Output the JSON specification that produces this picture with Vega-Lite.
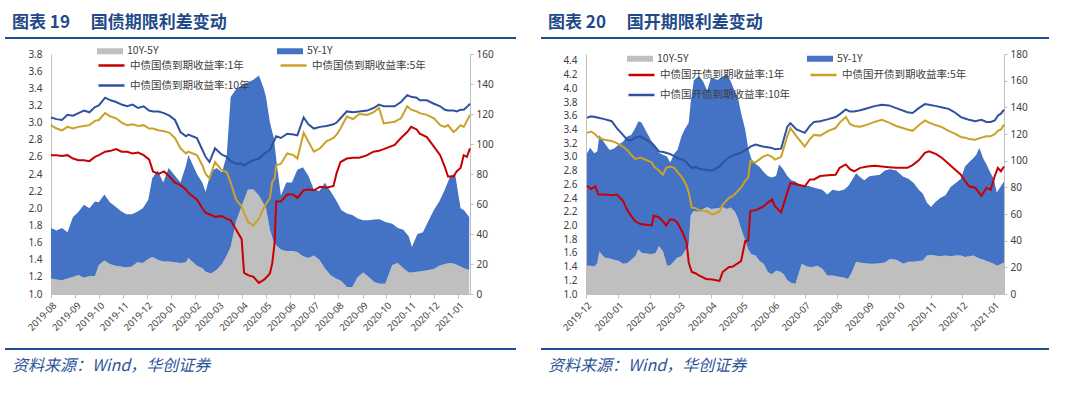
{
"$schema": "https://vega.github.io/schema/vega-lite/v6.json",
"background": "white",
"padding": {"left": 5, "top": 14, "right": 5, "bottom": 5},
"spacing": 25,
"resolve": {"scale": {"fill": "independent", "stroke": "independent"}, "legend": {"fill": "independent", "stroke": "independent"}},
"config": {
  "view": {"stroke": null},
  "font": "Noto Sans CJK SC",
  "axis": {"labelFont": "Noto Sans", "labelFontSize": 10, "labelColor": "#404040", "domainColor": "#bfbfbf", "tickColor": "#bfbfbf", "grid": false, "title": null},
  "legend": {"labelFont": "Noto Sans CJK SC", "labelFontSize": 10.5, "labelColor": "#404040", "padding": 0, "title": null}
},
"datasets": {
"aL": [
{"d":"2019-08-01","10Y-5Y":10.3,"5Y-1Y":33.7},{"d":"2019-08-08","10Y-5Y":9.7,"5Y-1Y":32.6},{"d":"2019-08-15","10Y-5Y":9.1,"5Y-1Y":34.9},{"d":"2019-08-22","10Y-5Y":10.3,"5Y-1Y":30.9},{"d":"2019-08-29","10Y-5Y":11.4,"5Y-1Y":40.0},
{"d":"2019-09-05","10Y-5Y":12.6,"5Y-1Y":42.3},{"d":"2019-09-12","10Y-5Y":10.9,"5Y-1Y":48.6},{"d":"2019-09-19","10Y-5Y":12.0,"5Y-1Y":45.1},{"d":"2019-09-26","10Y-5Y":12.0,"5Y-1Y":49.7},
{"d":"2019-10-01","10Y-5Y":19.4,"5Y-1Y":41.7},{"d":"2019-10-08","10Y-5Y":22.3,"5Y-1Y":44.0},{"d":"2019-10-15","10Y-5Y":20.0,"5Y-1Y":41.1},{"d":"2019-10-22","10Y-5Y":18.9,"5Y-1Y":39.4},{"d":"2019-10-29","10Y-5Y":18.3,"5Y-1Y":37.1},
{"d":"2019-11-05","10Y-5Y":17.7,"5Y-1Y":35.4},{"d":"2019-11-12","10Y-5Y":18.3,"5Y-1Y":34.9},{"d":"2019-11-19","10Y-5Y":21.1,"5Y-1Y":33.7},{"d":"2019-11-26","10Y-5Y":20.6,"5Y-1Y":36.6},
{"d":"2019-12-03","10Y-5Y":23.4,"5Y-1Y":39.4},{"d":"2019-12-08","10Y-5Y":24.6,"5Y-1Y":52.6},{"d":"2019-12-15","10Y-5Y":22.9,"5Y-1Y":59.4},{"d":"2019-12-22","10Y-5Y":21.7,"5Y-1Y":52.6},{"d":"2019-12-29","10Y-5Y":21.7,"5Y-1Y":62.3},
{"d":"2020-01-06","10Y-5Y":21.1,"5Y-1Y":57.7},{"d":"2020-01-13","10Y-5Y":20.6,"5Y-1Y":53.7},{"d":"2020-01-20","10Y-5Y":21.1,"5Y-1Y":64.6},{"d":"2020-01-23","10Y-5Y":24.0,"5Y-1Y":68.6},
{"d":"2020-02-03","10Y-5Y":18.9,"5Y-1Y":61.1},{"d":"2020-02-10","10Y-5Y":17.1,"5Y-1Y":57.1},{"d":"2020-02-14","10Y-5Y":14.9,"5Y-1Y":53.1},{"d":"2020-02-21","10Y-5Y":13.7,"5Y-1Y":68.0},{"d":"2020-02-28","10Y-5Y":16.0,"5Y-1Y":68.0},
{"d":"2020-03-06","10Y-5Y":20.0,"5Y-1Y":61.1},{"d":"2020-03-12","10Y-5Y":25.7,"5Y-1Y":66.9},{"d":"2020-03-17","10Y-5Y":31.4,"5Y-1Y":100.0},{"d":"2020-03-24","10Y-5Y":48.6,"5Y-1Y":88.0},
{"d":"2020-04-01","10Y-5Y":60.0,"5Y-1Y":79.4},{"d":"2020-04-08","10Y-5Y":69.7,"5Y-1Y":71.4},{"d":"2020-04-15","10Y-5Y":69.7,"5Y-1Y":73.1},{"d":"2020-04-22","10Y-5Y":65.7,"5Y-1Y":80.0},{"d":"2020-04-28","10Y-5Y":60.0,"5Y-1Y":77.1},
{"d":"2020-05-01","10Y-5Y":57.1,"5Y-1Y":74.3},{"d":"2020-05-06","10Y-5Y":42.9,"5Y-1Y":71.4},{"d":"2020-05-11","10Y-5Y":34.3,"5Y-1Y":69.7},{"d":"2020-05-15","10Y-5Y":32.0,"5Y-1Y":53.7},{"d":"2020-05-20","10Y-5Y":29.7,"5Y-1Y":36.0},{"d":"2020-05-27","10Y-5Y":28.6,"5Y-1Y":45.7},
{"d":"2020-06-03","10Y-5Y":28.6,"5Y-1Y":45.7},{"d":"2020-06-10","10Y-5Y":28.0,"5Y-1Y":54.9},{"d":"2020-06-17","10Y-5Y":25.1,"5Y-1Y":59.4},{"d":"2020-06-24","10Y-5Y":24.0,"5Y-1Y":54.9},
{"d":"2020-07-01","10Y-5Y":25.7,"5Y-1Y":44.0},{"d":"2020-07-08","10Y-5Y":22.9,"5Y-1Y":45.7},{"d":"2020-07-15","10Y-5Y":17.1,"5Y-1Y":57.1},{"d":"2020-07-22","10Y-5Y":12.6,"5Y-1Y":56.0},{"d":"2020-07-29","10Y-5Y":10.3,"5Y-1Y":52.6},
{"d":"2020-08-05","10Y-5Y":8.6,"5Y-1Y":47.4},{"d":"2020-08-12","10Y-5Y":4.6,"5Y-1Y":49.1},{"d":"2020-08-19","10Y-5Y":4.6,"5Y-1Y":48.0},{"d":"2020-08-26","10Y-5Y":11.4,"5Y-1Y":38.9},
{"d":"2020-09-02","10Y-5Y":14.3,"5Y-1Y":34.9},{"d":"2020-09-09","10Y-5Y":11.4,"5Y-1Y":37.7},{"d":"2020-09-16","10Y-5Y":8.0,"5Y-1Y":41.7},{"d":"2020-09-23","10Y-5Y":6.9,"5Y-1Y":42.9},{"d":"2020-09-30","10Y-5Y":6.9,"5Y-1Y":41.1},
{"d":"2020-10-09","10Y-5Y":19.4,"5Y-1Y":27.4},{"d":"2020-10-16","10Y-5Y":20.6,"5Y-1Y":23.4},{"d":"2020-10-23","10Y-5Y":17.1,"5Y-1Y":25.7},{"d":"2020-10-30","10Y-5Y":14.3,"5Y-1Y":24.0},
{"d":"2020-11-03","10Y-5Y":14.3,"5Y-1Y":17.1},{"d":"2020-11-10","10Y-5Y":14.9,"5Y-1Y":25.1},{"d":"2020-11-17","10Y-5Y":15.4,"5Y-1Y":25.7},{"d":"2020-11-24","10Y-5Y":16.0,"5Y-1Y":32.6},
{"d":"2020-12-01","10Y-5Y":16.6,"5Y-1Y":39.4},{"d":"2020-12-08","10Y-5Y":18.9,"5Y-1Y":42.9},{"d":"2020-12-15","10Y-5Y":20.0,"5Y-1Y":49.7},{"d":"2020-12-22","10Y-5Y":20.6,"5Y-1Y":58.3},{"d":"2020-12-28","10Y-5Y":20.0,"5Y-1Y":60.0},
{"d":"2021-01-04","10Y-5Y":18.3,"5Y-1Y":38.9},{"d":"2021-01-08","10Y-5Y":17.1,"5Y-1Y":38.9},{"d":"2021-01-15","10Y-5Y":16.0,"5Y-1Y":35.4}
],
"lL": [
{"d":"2019-08-01","1年":2.62,"5年":2.97,"10年":3.06},{"d":"2019-08-08","1年":2.62,"5年":2.93,"10年":3.04},{"d":"2019-08-15","1年":2.61,"5年":2.91,"10年":3.03},{"d":"2019-08-22","1年":2.62,"5年":2.95,"10年":3.09},{"d":"2019-08-29","1年":2.58,"5年":2.93,"10年":3.08},
{"d":"2019-09-05","1年":2.56,"5年":2.95,"10年":3.11},{"d":"2019-09-12","1年":2.56,"5年":2.96,"10年":3.14},{"d":"2019-09-19","1年":2.55,"5年":2.97,"10年":3.12},{"d":"2019-09-26","1年":2.60,"5年":3.02,"10年":3.18},
{"d":"2019-10-01","1年":2.62,"5年":3.03,"10年":3.20},{"d":"2019-10-09","1年":2.66,"5年":3.11,"10年":3.29},{"d":"2019-10-16","1年":2.67,"5年":3.07,"10年":3.26},{"d":"2019-10-23","1年":2.69,"5年":3.05,"10年":3.24},{"d":"2019-10-30","1年":2.66,"5年":3.00,"10年":3.21},
{"d":"2019-11-06","1年":2.66,"5年":2.97,"10年":3.19},{"d":"2019-11-13","1年":2.64,"5年":2.98,"10年":3.21},{"d":"2019-11-20","1年":2.65,"5年":2.96,"10年":3.17},{"d":"2019-11-27","1年":2.62,"5年":2.97,"10年":3.19},
{"d":"2019-12-04","1年":2.57,"5年":2.93,"10年":3.14},{"d":"2019-12-09","1年":2.43,"5年":2.93,"10年":3.13},{"d":"2019-12-16","1年":2.40,"5年":2.91,"10年":3.13},{"d":"2019-12-23","1年":2.43,"5年":2.90,"10年":3.11},{"d":"2019-12-30","1年":2.37,"5年":2.88,"10年":3.08},
{"d":"2020-01-06","1年":2.30,"5年":2.82,"10年":3.03},{"d":"2020-01-13","1年":2.27,"5年":2.70,"10年":2.89},{"d":"2020-01-20","1年":2.22,"5年":2.64,"10年":2.84},{"d":"2020-01-23","1年":2.18,"5年":2.66,"10年":2.86},
{"d":"2020-02-03","1年":2.10,"5年":2.62,"10年":2.82},{"d":"2020-02-10","1年":2.00,"5年":2.50,"10年":2.68},{"d":"2020-02-14","1年":1.95,"5年":2.40,"10年":2.60},{"d":"2020-02-19","1年":1.93,"5年":2.35,"10年":2.54},{"d":"2020-02-26","1年":1.90,"5年":2.54,"10年":2.70},
{"d":"2020-03-05","1年":1.91,"5年":2.45,"10年":2.63},{"d":"2020-03-12","1年":1.88,"5年":2.42,"10年":2.60},{"d":"2020-03-17","1年":1.86,"5年":2.30,"10年":2.55},{"d":"2020-03-24","1年":1.75,"5年":2.10,"10年":2.52},{"d":"2020-03-31","1年":1.64,"5年":2.02,"10年":2.52},
{"d":"2020-04-03","1年":1.25,"5年":1.95,"10年":2.50},{"d":"2020-04-08","1年":1.22,"5年":1.84,"10年":2.53},{"d":"2020-04-15","1年":1.20,"5年":1.80,"10年":2.56},{"d":"2020-04-22","1年":1.13,"5年":1.88,"10年":2.58},{"d":"2020-04-29","1年":1.17,"5年":2.02,"10年":2.64},
{"d":"2020-05-06","1年":1.24,"5年":2.12,"10年":2.68},{"d":"2020-05-09","1年":1.36,"5年":2.31,"10年":2.74},{"d":"2020-05-12","1年":1.60,"5年":2.35,"10年":2.80},{"d":"2020-05-14","1年":2.08,"5年":2.50,"10年":2.84},{"d":"2020-05-20","1年":2.08,"5年":2.52,"10年":2.82},{"d":"2020-05-28","1年":2.16,"5年":2.64,"10年":2.87},
{"d":"2020-06-05","1年":2.16,"5年":2.62,"10年":2.86},{"d":"2020-06-10","1年":2.12,"5年":2.58,"10年":2.85},{"d":"2020-06-18","1年":2.21,"5年":2.88,"10年":3.06},{"d":"2020-06-24","1年":2.22,"5年":2.78,"10年":2.98},
{"d":"2020-07-01","1年":2.21,"5年":2.66,"10年":2.93},{"d":"2020-07-09","1年":2.25,"5年":2.70,"10年":2.95},{"d":"2020-07-17","1年":2.24,"5年":2.78,"10年":2.96},{"d":"2020-07-26","1年":2.26,"5年":2.82,"10年":2.98},{"d":"2020-07-30","1年":2.41,"5年":2.86,"10年":3.00},
{"d":"2020-08-04","1年":2.54,"5年":2.93,"10年":3.05},{"d":"2020-08-12","1年":2.58,"5年":3.07,"10年":3.13},{"d":"2020-08-20","1年":2.59,"5年":3.04,"10年":3.12},{"d":"2020-08-28","1年":2.59,"5年":3.10,"10年":3.13},
{"d":"2020-09-07","1年":2.62,"5年":3.09,"10年":3.14},{"d":"2020-09-15","1年":2.66,"5年":3.12,"10年":3.17},{"d":"2020-09-22","1年":2.67,"5年":3.17,"10年":3.21},{"d":"2020-09-28","1年":2.69,"5年":2.99,"10年":3.19},
{"d":"2020-10-12","1年":2.74,"5年":3.01,"10年":3.19},{"d":"2020-10-20","1年":2.82,"5年":3.05,"10年":3.24},{"d":"2020-10-28","1年":2.89,"5年":3.19,"10年":3.32},
{"d":"2020-11-02","1年":2.95,"5年":3.15,"10年":3.30},{"d":"2020-11-09","1年":2.92,"5年":3.13,"10年":3.29},{"d":"2020-11-13","1年":2.87,"5年":3.11,"10年":3.26},{"d":"2020-11-22","1年":2.83,"5年":3.09,"10年":3.26},
{"d":"2020-12-01","1年":2.72,"5年":3.05,"10年":3.22},{"d":"2020-12-09","1年":2.62,"5年":2.97,"10年":3.19},{"d":"2020-12-15","1年":2.48,"5年":2.95,"10年":3.15},{"d":"2020-12-19","1年":2.37,"5年":2.97,"10年":3.14},{"d":"2020-12-26","1年":2.37,"5年":2.89,"10年":3.14},{"d":"2020-12-30","1年":2.43,"5年":2.92,"10年":3.13},
{"d":"2021-01-04","1年":2.47,"5年":2.97,"10年":3.15},{"d":"2021-01-08","1年":2.62,"5年":2.95,"10年":3.15},{"d":"2021-01-12","1年":2.60,"5年":3.02,"10年":3.18},{"d":"2021-01-16","1年":2.70,"5年":3.09,"10年":3.22}
],
"aR": [
{"d":"2019-12-02","10Y-5Y":21.1,"5Y-1Y":84.3},{"d":"2019-12-05","10Y-5Y":21.1,"5Y-1Y":88.5},{"d":"2019-12-09","10Y-5Y":20.6,"5Y-1Y":84.9},{"d":"2019-12-12","10Y-5Y":23.1,"5Y-1Y":83.8},{"d":"2019-12-14","10Y-5Y":31.9,"5Y-1Y":87.4},{"d":"2019-12-19","10Y-5Y":27.3,"5Y-1Y":85.9},{"d":"2019-12-24","10Y-5Y":26.7,"5Y-1Y":81.3},{"d":"2019-12-28","10Y-5Y":25.7,"5Y-1Y":83.3},
{"d":"2020-01-02","10Y-5Y":24.7,"5Y-1Y":87.4},{"d":"2020-01-06","10Y-5Y":22.6,"5Y-1Y":91.5},{"d":"2020-01-10","10Y-5Y":23.1,"5Y-1Y":95.1},{"d":"2020-01-14","10Y-5Y":25.7,"5Y-1Y":93.6},{"d":"2020-01-18","10Y-5Y":28.3,"5Y-1Y":96.2},{"d":"2020-01-21","10Y-5Y":33.4,"5Y-1Y":96.2},{"d":"2020-01-24","10Y-5Y":30.9,"5Y-1Y":97.7},
{"d":"2020-02-03","10Y-5Y":29.8,"5Y-1Y":84.3},{"d":"2020-02-07","10Y-5Y":30.9,"5Y-1Y":78.7},{"d":"2020-02-10","10Y-5Y":36.0,"5Y-1Y":69.9},{"d":"2020-02-14","10Y-5Y":31.9,"5Y-1Y":72.5},{"d":"2020-02-18","10Y-5Y":21.1,"5Y-1Y":81.8},{"d":"2020-02-21","10Y-5Y":21.6,"5Y-1Y":77.1},{"d":"2020-02-25","10Y-5Y":24.7,"5Y-1Y":80.7},{"d":"2020-02-28","10Y-5Y":27.3,"5Y-1Y":80.7},
{"d":"2020-03-03","10Y-5Y":28.3,"5Y-1Y":90.0},{"d":"2020-03-06","10Y-5Y":31.9,"5Y-1Y":91.5},{"d":"2020-03-10","10Y-5Y":37.0,"5Y-1Y":91.5},{"d":"2020-03-12","10Y-5Y":59.1,"5Y-1Y":84.9},{"d":"2020-03-15","10Y-5Y":62.2,"5Y-1Y":98.2},{"d":"2020-03-20","10Y-5Y":61.7,"5Y-1Y":101.8},{"d":"2020-03-24","10Y-5Y":63.8,"5Y-1Y":95.7},{"d":"2020-03-28","10Y-5Y":65.3,"5Y-1Y":87.4},
{"d":"2020-04-01","10Y-5Y":63.8,"5Y-1Y":98.7},{"d":"2020-04-07","10Y-5Y":64.3,"5Y-1Y":96.2},{"d":"2020-04-12","10Y-5Y":65.3,"5Y-1Y":97.7},{"d":"2020-04-16","10Y-5Y":63.8,"5Y-1Y":100.8},{"d":"2020-04-20","10Y-5Y":64.8,"5Y-1Y":94.6},{"d":"2020-04-24","10Y-5Y":61.7,"5Y-1Y":90.0},{"d":"2020-04-27","10Y-5Y":56.6,"5Y-1Y":90.5},{"d":"2020-04-30","10Y-5Y":48.9,"5Y-1Y":86.9},
{"d":"2020-05-04","10Y-5Y":40.1,"5Y-1Y":83.3},{"d":"2020-05-07","10Y-5Y":33.4,"5Y-1Y":75.6},{"d":"2020-05-10","10Y-5Y":29.8,"5Y-1Y":71.5},{"d":"2020-05-14","10Y-5Y":28.8,"5Y-1Y":68.9},{"d":"2020-05-18","10Y-5Y":24.7,"5Y-1Y":70.5},{"d":"2020-05-22","10Y-5Y":22.6,"5Y-1Y":68.9},{"d":"2020-05-26","10Y-5Y":16.5,"5Y-1Y":72.0},{"d":"2020-05-30","10Y-5Y":14.9,"5Y-1Y":72.5},
{"d":"2020-06-03","10Y-5Y":17.5,"5Y-1Y":71.0},{"d":"2020-06-06","10Y-5Y":17.0,"5Y-1Y":80.2},{"d":"2020-06-10","10Y-5Y":15.4,"5Y-1Y":78.2},{"d":"2020-06-14","10Y-5Y":10.3,"5Y-1Y":78.2},{"d":"2020-06-18","10Y-5Y":8.2,"5Y-1Y":77.1},{"d":"2020-06-22","10Y-5Y":7.7,"5Y-1Y":76.6},{"d":"2020-06-28","10Y-5Y":22.6,"5Y-1Y":58.1},
{"d":"2020-07-03","10Y-5Y":20.6,"5Y-1Y":60.7},{"d":"2020-07-08","10Y-5Y":20.1,"5Y-1Y":60.2},{"d":"2020-07-13","10Y-5Y":21.1,"5Y-1Y":58.1},{"d":"2020-07-18","10Y-5Y":19.0,"5Y-1Y":59.1},{"d":"2020-07-23","10Y-5Y":13.9,"5Y-1Y":60.7},{"d":"2020-07-28","10Y-5Y":13.9,"5Y-1Y":64.3},
{"d":"2020-08-03","10Y-5Y":12.9,"5Y-1Y":64.3},{"d":"2020-08-08","10Y-5Y":12.3,"5Y-1Y":65.8},{"d":"2020-08-12","10Y-5Y":11.3,"5Y-1Y":69.4},{"d":"2020-08-16","10Y-5Y":16.5,"5Y-1Y":68.9},{"d":"2020-08-20","10Y-5Y":24.2,"5Y-1Y":66.3},{"d":"2020-08-24","10Y-5Y":23.7,"5Y-1Y":63.8},{"d":"2020-08-28","10Y-5Y":23.1,"5Y-1Y":62.2},
{"d":"2020-09-02","10Y-5Y":22.6,"5Y-1Y":65.8},{"d":"2020-09-07","10Y-5Y":22.6,"5Y-1Y":66.3},{"d":"2020-09-12","10Y-5Y":23.1,"5Y-1Y":66.3},{"d":"2020-09-17","10Y-5Y":23.7,"5Y-1Y":68.9},{"d":"2020-09-22","10Y-5Y":26.2,"5Y-1Y":67.4},{"d":"2020-09-28","10Y-5Y":25.7,"5Y-1Y":66.9},
{"d":"2020-10-05","10Y-5Y":22.6,"5Y-1Y":65.3},{"d":"2020-10-10","10Y-5Y":24.2,"5Y-1Y":62.2},{"d":"2020-10-15","10Y-5Y":24.2,"5Y-1Y":59.1},{"d":"2020-10-20","10Y-5Y":24.7,"5Y-1Y":53.5},{"d":"2020-10-24","10Y-5Y":25.2,"5Y-1Y":49.9},{"d":"2020-10-28","10Y-5Y":28.8,"5Y-1Y":39.6},
{"d":"2020-11-01","10Y-5Y":29.3,"5Y-1Y":36.0},{"d":"2020-11-05","10Y-5Y":28.8,"5Y-1Y":40.1},{"d":"2020-11-10","10Y-5Y":28.3,"5Y-1Y":43.7},{"d":"2020-11-15","10Y-5Y":28.8,"5Y-1Y":45.3},{"d":"2020-11-20","10Y-5Y":28.3,"5Y-1Y":51.9},{"d":"2020-11-25","10Y-5Y":28.8,"5Y-1Y":54.5},{"d":"2020-11-30","10Y-5Y":28.8,"5Y-1Y":57.6},
{"d":"2020-12-04","10Y-5Y":27.8,"5Y-1Y":67.9},{"d":"2020-12-08","10Y-5Y":28.3,"5Y-1Y":70.5},{"d":"2020-12-12","10Y-5Y":28.8,"5Y-1Y":73.0},{"d":"2020-12-15","10Y-5Y":27.8,"5Y-1Y":76.6},{"d":"2020-12-18","10Y-5Y":26.7,"5Y-1Y":82.8},{"d":"2020-12-22","10Y-5Y":25.7,"5Y-1Y":75.6},{"d":"2020-12-25","10Y-5Y":24.7,"5Y-1Y":72.5},{"d":"2020-12-29","10Y-5Y":23.7,"5Y-1Y":66.9},
{"d":"2021-01-01","10Y-5Y":22.6,"5Y-1Y":63.8},{"d":"2021-01-04","10Y-5Y":21.1,"5Y-1Y":55.0},{"d":"2021-01-07","10Y-5Y":22.1,"5Y-1Y":57.6},{"d":"2021-01-11","10Y-5Y":23.7,"5Y-1Y":60.7}
],
"lR": [
{"d":"2019-12-02","1年":2.58,"5年":3.35,"10年":3.57},{"d":"2019-12-06","1年":2.53,"5年":3.37,"10年":3.59},{"d":"2019-12-10","1年":2.57,"5年":3.33,"10年":3.58},{"d":"2019-12-13","1年":2.45,"5年":3.28,"10年":3.57},{"d":"2019-12-19","1年":2.45,"5年":3.25,"10年":3.55},{"d":"2019-12-26","1年":2.44,"5年":3.23,"10年":3.52},{"d":"2019-12-31","1年":2.45,"5年":3.20,"10年":3.42},
{"d":"2020-01-06","1年":2.36,"5年":3.15,"10年":3.32},{"d":"2020-01-10","1年":2.23,"5年":3.10,"10年":3.25},{"d":"2020-01-14","1年":2.14,"5年":3.03,"10年":3.24},{"d":"2020-01-18","1年":2.06,"5年":2.97,"10年":3.28},{"d":"2020-01-23","1年":2.02,"5年":2.99,"10年":3.30},
{"d":"2020-02-03","1年":2.00,"5年":2.92,"10年":3.20},{"d":"2020-02-05","1年":2.14,"5年":2.86,"10年":3.17},{"d":"2020-02-10","1年":2.12,"5年":2.80,"10年":3.08},{"d":"2020-02-14","1年":2.06,"5年":2.74,"10年":3.07},{"d":"2020-02-17","1年":2.00,"5年":2.84,"10年":3.06},{"d":"2020-02-21","1年":2.09,"5年":2.86,"10年":3.04},{"d":"2020-02-25","1年":2.08,"5年":2.84,"10年":3.01},{"d":"2020-02-28","1年":2.04,"5年":2.78,"10年":2.98},
{"d":"2020-03-04","1年":1.90,"5年":2.69,"10年":2.96},{"d":"2020-03-08","1年":1.75,"5年":2.58,"10年":2.92},{"d":"2020-03-10","1年":1.46,"5年":2.48,"10年":2.88},{"d":"2020-03-13","1年":1.32,"5年":2.26,"10年":2.84},{"d":"2020-03-17","1年":1.30,"5年":2.25,"10年":2.85},{"d":"2020-03-20","1年":1.27,"5年":2.22,"10年":2.83},{"d":"2020-03-27","1年":1.22,"5年":2.21,"10年":2.81},
{"d":"2020-04-02","1年":1.21,"5年":2.16,"10年":2.80},{"d":"2020-04-09","1年":1.19,"5年":2.20,"10年":2.86},{"d":"2020-04-12","1年":1.32,"5年":2.30,"10年":2.91},{"d":"2020-04-18","1年":1.39,"5年":2.40,"10年":2.99},{"d":"2020-04-22","1年":1.40,"5年":2.43,"10年":3.02},{"d":"2020-04-30","1年":1.48,"5年":2.55,"10年":3.06},
{"d":"2020-05-04","1年":1.77,"5年":2.65,"10年":3.10},{"d":"2020-05-07","1年":1.78,"5年":2.70,"10年":3.12},{"d":"2020-05-09","1年":2.21,"5年":2.94,"10年":3.15},{"d":"2020-05-14","1年":2.22,"5年":2.92,"10年":3.18},{"d":"2020-05-21","1年":2.27,"5年":3.00,"10年":3.15},{"d":"2020-05-26","1年":2.33,"5年":3.03,"10年":3.14},{"d":"2020-05-30","1年":2.38,"5年":3.00,"10年":3.13},
{"d":"2020-06-02","1年":2.28,"5年":2.96,"10年":3.11},{"d":"2020-06-08","1年":2.19,"5年":3.00,"10年":3.12},{"d":"2020-06-14","1年":2.48,"5年":3.30,"10年":3.44},{"d":"2020-06-17","1年":2.62,"5年":3.42,"10年":3.49},{"d":"2020-06-23","1年":2.60,"5年":3.30,"10年":3.40},
{"d":"2020-07-01","1年":2.57,"5年":3.15,"10年":3.35},{"d":"2020-07-06","1年":2.67,"5年":3.26,"10年":3.45},{"d":"2020-07-10","1年":2.67,"5年":3.32,"10年":3.51},{"d":"2020-07-16","1年":2.72,"5年":3.31,"10年":3.52},{"d":"2020-07-24","1年":2.73,"5年":3.38,"10年":3.55},{"d":"2020-07-31","1年":2.74,"5年":3.42,"10年":3.58},
{"d":"2020-08-04","1年":2.84,"5年":3.50,"10年":3.62},{"d":"2020-08-10","1年":2.89,"5年":3.58,"10年":3.69},{"d":"2020-08-14","1年":2.82,"5年":3.48,"10年":3.66},{"d":"2020-08-18","1年":2.79,"5年":3.45,"10年":3.66},{"d":"2020-08-24","1年":2.84,"5年":3.44,"10年":3.68},{"d":"2020-08-31","1年":2.86,"5年":3.47,"10年":3.71},
{"d":"2020-09-07","1年":2.87,"5年":3.51,"10年":3.74},{"d":"2020-09-14","1年":2.86,"5年":3.54,"10年":3.76},{"d":"2020-09-21","1年":2.85,"5年":3.50,"10年":3.75},{"d":"2020-09-28","1年":2.84,"5年":3.45,"10年":3.71},
{"d":"2020-10-09","1年":2.84,"5年":3.40,"10年":3.65},{"d":"2020-10-14","1年":2.88,"5年":3.38,"10年":3.64},{"d":"2020-10-20","1年":2.95,"5年":3.46,"10年":3.71},{"d":"2020-10-26","1年":3.06,"5年":3.53,"10年":3.77},{"d":"2020-10-30","1年":3.08,"5年":3.50,"10年":3.76},
{"d":"2020-11-06","1年":3.04,"5年":3.46,"10年":3.74},{"d":"2020-11-12","1年":2.98,"5年":3.43,"10年":3.72},{"d":"2020-11-18","1年":2.90,"5年":3.38,"10年":3.70},{"d":"2020-11-24","1年":2.82,"5年":3.34,"10年":3.65},{"d":"2020-11-30","1年":2.74,"5年":3.29,"10年":3.58},
{"d":"2020-12-04","1年":2.65,"5年":3.28,"10年":3.56},{"d":"2020-12-08","1年":2.57,"5年":3.26,"10年":3.54},{"d":"2020-12-14","1年":2.55,"5年":3.25,"10年":3.52},{"d":"2020-12-20","1年":2.43,"5年":3.28,"10年":3.54},{"d":"2020-12-25","1年":2.55,"5年":3.30,"10年":3.51},{"d":"2020-12-29","1年":2.52,"5年":3.30,"10年":3.51},
{"d":"2021-01-02","1年":2.72,"5年":3.33,"10年":3.53},{"d":"2021-01-05","1年":2.84,"5年":3.38,"10年":3.60},{"d":"2021-01-08","1年":2.79,"5年":3.40,"10年":3.63},{"d":"2021-01-11","1年":2.86,"5年":3.47,"10年":3.69}
]
},
"hconcat": [
{
  "vconcat": [
    {"title": {"text": "图表  19　  国债期限利差变动", "anchor": "start", "frame": "group", "orient": "top", "offset": -12, "dx": 7, "baseline": "bottom", "fontSize": 17, "font": "Noto Sans CJK SC", "fontWeight": "bold", "color": "#1f4a8a"},
     "width": 511, "height": 2, "view": {"fill": "#1f4e8c", "stroke": null},
     "data": {"values": [{"z": 0}]}, "mark": {"type": "text", "text": "", "fontSize": 1}},
    {"width": 419, "height": 240,
     "encoding": {"x": {"field": "d", "type": "temporal",
        "scale": {"type": "utc", "domain": [{"year": 2019, "month": 8, "date": 1, "utc": true}, {"year": 2021, "month": 1, "date": 16, "utc": true}]},
        "axis": {"labelExpr": "utcFormat(datum.value, '%Y-%m')", "labelAngle": -45, "tickCount": {"interval": "month", "step": 1}, "tickSize": 4, "labelPadding": 2, "labelFontSize": 9.5, "labelOverlap": false, "labelFlush": false}}},
     "layer": [
       {"data": {"name": "aL"}, "transform": [{"fold": ["10Y-5Y", "5Y-1Y"], "as": ["k", "v"]}],
        "mark": {"type": "area"},
        "encoding": {
          "y": {"field": "v", "type": "quantitative", "stack": "zero", "scale": {"domain": [0, 160], "nice": false},
                "axis": {"orient": "right", "values": [0, 20, 40, 60, 80, 100, 120, 140, 160], "tickSize": 3, "labelPadding": 3}},
          "fill": {"field": "k", "type": "nominal", "scale": {"domain": ["10Y-5Y", "5Y-1Y"], "range": ["#bfbfbf", "#4472c4"]},
                   "legend": {"orient": "none", "legendX": 92, "legendY": 1, "direction": "horizontal", "columns": 2, "columnPadding": 118, "symbolType": "M-1,-0.23H1V0.23H-1Z", "symbolSize": 676, "symbolStrokeWidth": 0, "symbolOpacity": 1, "labelOffset": 4}},
          "order": {"field": "k", "sort": "ascending"}}},
       {"data": {"name": "lL"}, "transform": [{"fold": ["1年", "5年", "10年"], "as": ["k", "v"]}],
        "mark": {"type": "line", "strokeWidth": 2},
        "encoding": {
          "y": {"field": "v", "type": "quantitative", "scale": {"domain": [1.0, 3.8], "nice": false, "zero": false},
                "axis": {"orient": "left", "values": [1.0, 1.2, 1.4, 1.6, 1.8, 2.0, 2.2, 2.4, 2.6, 2.8, 3.0, 3.2, 3.4, 3.6, 3.8], "format": ".1f", "ticks": false, "labelPadding": 9}},
          "stroke": {"field": "k", "type": "nominal", "scale": {"domain": ["1年", "5年", "10年"], "range": ["#c80000", "#c9a227", "#2f52a0"]},
                     "legend": {"orient": "none", "legendX": 92, "legendY": 14, "direction": "horizontal", "columns": 2, "columnPadding": 25, "rowPadding": -17, "symbolType": "stroke", "symbolSize": 676, "symbolStrokeWidth": 2.5, "labelOffset": 4, "labelExpr": "'中债国债到期收益率:' + datum.label"}}}}
     ],
     "resolve": {"scale": {"y": "independent"}}},
    {"width": 10, "height": 24, "data": {"values": [{"z": 0}]}, "mark": {"type": "text", "text": "", "fontSize": 1}},
    {"title": {"text": "资料来源：Wind，华创证券", "anchor": "start", "frame": "group", "orient": "bottom", "offset": 8, "dx": 7, "baseline": "top", "fontSize": 16, "font": "Noto Sans CJK SC", "fontStyle": "italic", "fontWeight": "normal", "color": "#2f5597"},
     "width": 511, "height": 2, "view": {"fill": "#1f4e8c", "stroke": null},
     "data": {"values": [{"z": 0}]}, "mark": {"type": "text", "text": "", "fontSize": 1}}
  ],
  "spacing": 15, "center": true, "bounds": "flush"
},
{
  "vconcat": [
    {"title": {"text": "图表  20　  国开期限利差变动", "anchor": "start", "frame": "group", "orient": "top", "offset": -12, "dx": 7, "baseline": "bottom", "fontSize": 17, "font": "Noto Sans CJK SC", "fontWeight": "bold", "color": "#1f4a8a"},
     "width": 508, "height": 2, "view": {"fill": "#1f4e8c", "stroke": null},
     "data": {"values": [{"z": 0}]}, "mark": {"type": "text", "text": "", "fontSize": 1}},
    {"width": 418, "height": 240,
     "encoding": {"x": {"field": "d", "type": "temporal",
        "scale": {"type": "utc", "domain": [{"year": 2019, "month": 12, "date": 1, "utc": true}, {"year": 2021, "month": 1, "date": 11, "utc": true}]},
        "axis": {"labelExpr": "utcFormat(datum.value, '%Y-%m')", "labelAngle": -45, "tickCount": {"interval": "month", "step": 1}, "tickSize": 4, "labelPadding": 2, "labelFontSize": 9.5, "labelOverlap": false, "labelFlush": false}}},
     "layer": [
       {"data": {"name": "aR"}, "transform": [{"fold": ["10Y-5Y", "5Y-1Y"], "as": ["k", "v"]}],
        "mark": {"type": "area"},
        "encoding": {
          "y": {"field": "v", "type": "quantitative", "stack": "zero", "scale": {"domain": [0, 180], "nice": false},
                "axis": {"orient": "right", "values": [0, 20, 40, 60, 80, 100, 120, 140, 160, 180], "tickSize": 3, "labelPadding": 3}},
          "fill": {"field": "k", "type": "nominal", "scale": {"domain": ["10Y-5Y", "5Y-1Y"], "range": ["#bfbfbf", "#4472c4"]},
                   "legend": {"orient": "none", "legendX": 86, "legendY": 8.5, "direction": "horizontal", "columns": 2, "columnPadding": 118, "symbolType": "M-1,-0.23H1V0.23H-1Z", "symbolSize": 676, "symbolStrokeWidth": 0, "symbolOpacity": 1, "labelOffset": 4}},
          "order": {"field": "k", "sort": "ascending"}}},
       {"data": {"name": "lR"}, "transform": [{"fold": ["1年", "5年", "10年"], "as": ["k", "v"]}],
        "mark": {"type": "line", "strokeWidth": 2},
        "encoding": {
          "y": {"field": "v", "type": "quantitative", "scale": {"domain": [1.0, 4.5], "nice": false, "zero": false},
                "axis": {"orient": "left", "values": [1.0, 1.2, 1.4, 1.6, 1.8, 2.0, 2.2, 2.4, 2.6, 2.8, 3.0, 3.2, 3.4, 3.6, 3.8, 4.0, 4.2, 4.4], "format": ".1f", "ticks": false, "labelPadding": 9}},
          "stroke": {"field": "k", "type": "nominal", "scale": {"domain": ["1年", "5年", "10年"], "range": ["#c80000", "#c9a227", "#2f52a0"]},
                     "legend": {"orient": "none", "legendX": 86, "legendY": 23.5, "direction": "horizontal", "columns": 2, "columnPadding": 14, "rowPadding": -16, "symbolType": "stroke", "symbolSize": 676, "symbolStrokeWidth": 2.5, "labelOffset": 4, "labelExpr": "'中债国开债到期收益率:' + datum.label"}}}}
     ],
     "resolve": {"scale": {"y": "independent"}}},
    {"width": 10, "height": 24, "data": {"values": [{"z": 0}]}, "mark": {"type": "text", "text": "", "fontSize": 1}},
    {"title": {"text": "资料来源：Wind，华创证券", "anchor": "start", "frame": "group", "orient": "bottom", "offset": 8, "dx": 7, "baseline": "top", "fontSize": 16, "font": "Noto Sans CJK SC", "fontStyle": "italic", "fontWeight": "normal", "color": "#2f5597"},
     "width": 508, "height": 2, "view": {"fill": "#1f4e8c", "stroke": null},
     "data": {"values": [{"z": 0}]}, "mark": {"type": "text", "text": "", "fontSize": 1}}
  ],
  "spacing": 15, "center": true, "bounds": "flush"
}
]
}
